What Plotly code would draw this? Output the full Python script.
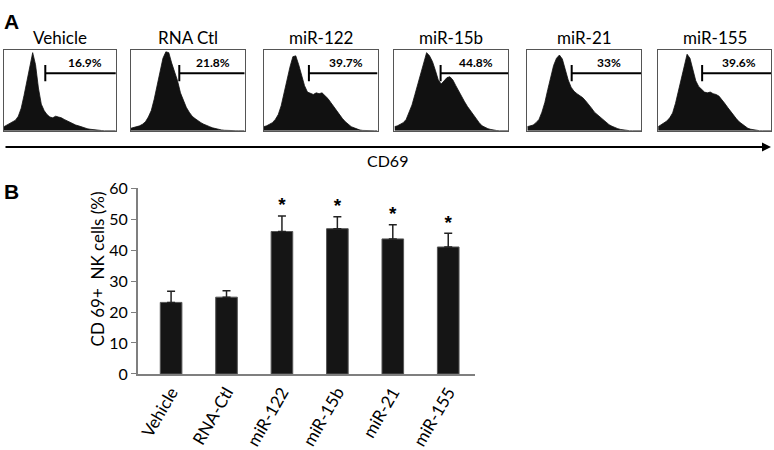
import plotly.graph_objects as go

W, H = 774, 450

# ---------------- Panel A data (flow cytometry histograms, normalised counts per CD69 channel bin)
SAMPLES_A = ["Vehicle", "RNA Ctl", "miR-122", "miR-15b", "miR-21", "miR-155"]
PCT_LABELS = ["16.9%", "21.8%", "39.7%", "44.8%", "33%", "39.6%"]
GATE_START = [14.4, 16.6, 15.5, 15.8, 15.2, 15.2]  # channel bin where CD69+ gate starts
CHANNEL_BINS = list(range(40))

HIST_VEHICLE = [0.05, 0.07, 0.08, 0.10, 0.13, 0.18, 0.28, 0.44, 0.63, 0.83,
                0.97, 0.82, 0.53, 0.33, 0.25, 0.20, 0.17, 0.16, 0.18, 0.17,
                0.16, 0.14, 0.12, 0.10, 0.09, 0.07, 0.06, 0.045, 0.035, 0.025,
                0.018, 0.012, 0.008, 0.004, 0.002, 0, 0, 0, 0, 0]
HIST_RNACTL = [0.03, 0.04, 0.05, 0.06, 0.08, 0.11, 0.17, 0.25, 0.39, 0.55,
               0.73, 0.90, 0.98, 0.97, 0.84, 0.73, 0.62, 0.47, 0.38, 0.29,
               0.23, 0.18, 0.15, 0.12, 0.10, 0.08, 0.06, 0.05, 0.035, 0.025,
               0.015, 0.01, 0.005, 0.002, 0, 0, 0, 0, 0, 0]
HIST_MIR122 = [0.05, 0.06, 0.08, 0.10, 0.14, 0.20, 0.31, 0.47, 0.65, 0.79,
               0.92, 0.93, 0.82, 0.68, 0.56, 0.48, 0.46, 0.45, 0.47, 0.46,
               0.47, 0.44, 0.40, 0.35, 0.30, 0.25, 0.19, 0.15, 0.11, 0.08,
               0.05, 0.035, 0.02, 0.008, 0.003, 0, 0, 0, 0, 0]
HIST_MIR15B = [0.05, 0.06, 0.08, 0.10, 0.14, 0.22, 0.32, 0.45, 0.58, 0.74,
               0.87, 0.97, 0.93, 0.86, 0.75, 0.63, 0.58, 0.62, 0.66, 0.67,
               0.63, 0.56, 0.49, 0.43, 0.36, 0.30, 0.25, 0.19, 0.14, 0.10,
               0.06, 0.04, 0.025, 0.015, 0.006, 0.002, 0, 0, 0, 0]
HIST_MIR21 = [0.05, 0.06, 0.07, 0.10, 0.14, 0.23, 0.35, 0.51, 0.67, 0.81,
              0.90, 0.94, 0.89, 0.75, 0.63, 0.54, 0.49, 0.46, 0.44, 0.41,
              0.37, 0.33, 0.28, 0.23, 0.20, 0.16, 0.13, 0.10, 0.075, 0.055,
              0.037, 0.025, 0.015, 0.008, 0.003, 0, 0, 0, 0, 0]
HIST_MIR155 = [0.05, 0.07, 0.09, 0.12, 0.16, 0.22, 0.34, 0.50, 0.67, 0.83,
               0.95, 0.90, 0.76, 0.62, 0.55, 0.51, 0.48, 0.47, 0.48, 0.46,
               0.45, 0.43, 0.39, 0.34, 0.29, 0.24, 0.19, 0.15, 0.11, 0.08,
               0.055, 0.03, 0.018, 0.01, 0.004, 0, 0, 0, 0, 0]
HISTS = [HIST_VEHICLE, HIST_RNACTL, HIST_MIR122, HIST_MIR15B, HIST_MIR21, HIST_MIR155]

# ---------------- Panel B data
GROUPS_B = ["Vehicle", "RNA-Ctl", "miR-122", "miR-15b", "miR-21", "miR-155"]
CD69_PCT = [23.1, 24.8, 46.0, 46.9, 43.6, 41.0]
CD69_SEM = [3.6, 2.1, 5.0, 3.9, 4.6, 4.4]
SIGNIF = ["", "", "*", "*", "*", "*"]
Y_TICKS = [0, 10, 20, 30, 40, 50, 60]

# ---------------- layout helpers (pixel -> paper)
def px_x(v):
    return v / W

def px_y(v):
    return 1 - v / H

BOX_X = [(3, 115), (130, 244), (263, 377), (394, 508), (527, 641), (658, 771)]
BOX_Y = (42, 126)

FONT = "Lato, 'Open Sans', sans-serif"
INK = "#111111"

fig = go.Figure()
layout = dict(
    width=W, height=H, autosize=False,
    margin=dict(l=0, r=0, t=0, b=0, pad=0),
    paper_bgcolor="white", plot_bgcolor="white",
    showlegend=False,
    font=dict(family=FONT, color="#000000"),
)
shapes = []
annotations = []

for i, (name, hist) in enumerate(zip(SAMPLES_A, HISTS)):
    n = i + 1
    xa = "x" if n == 1 else f"x{n}"
    ya = "y" if n == 1 else f"y{n}"
    fig.add_trace(go.Scatter(
        x=CHANNEL_BINS, y=hist, mode="lines", fill="tozeroy",
        line=dict(color=INK, width=0.8, shape="linear"),
        fillcolor=INK, xaxis=xa, yaxis=ya, hoverinfo="skip"))
    x0, x1 = BOX_X[i]
    axstyle = dict(showgrid=False, zeroline=False, showticklabels=False, ticks="",
                   showline=True, mirror=True, linecolor="#555555", linewidth=1,
                   fixedrange=True)
    layout["xaxis" if n == 1 else f"xaxis{n}"] = dict(
        domain=[px_x(x0), px_x(x1)], range=[0, CHANNEL_BINS[-1]],
        anchor=ya, **axstyle)
    layout["yaxis" if n == 1 else f"yaxis{n}"] = dict(
        domain=[px_y(BOX_Y[1]), px_y(BOX_Y[0])], range=[0, 1.0],
        anchor=xa, **axstyle)
    # gate
    gy = 0.715
    shapes.append(dict(type="line", xref=xa, yref=f"{ya} domain",
                       x0=GATE_START[i], x1=CHANNEL_BINS[-1], y0=gy, y1=gy,
                       line=dict(color="#000000", width=2)))
    shapes.append(dict(type="line", xref=xa, yref=f"{ya} domain",
                       x0=GATE_START[i], x1=GATE_START[i], y0=gy - 0.1, y1=gy + 0.1,
                       line=dict(color="#000000", width=2)))
    annotations.append(dict(text=f"<b>{PCT_LABELS[i]}</b>", xref=f"{xa} domain",
                            yref=f"{ya} domain", x=0.72, y=gy + 0.01,
                            xanchor="center", yanchor="bottom", showarrow=False,
                            font=dict(size=12, color="#000000", family=FONT)))
    annotations.append(dict(text=name, xref="paper", yref="paper",
                            x=px_x((x0 + x1) / 2), y=px_y(29),
                            xanchor="center", yanchor="middle", showarrow=False,
                            font=dict(size=17, color="#000000", family=FONT)))

# CD69 axis arrow
annotations.append(dict(text="", xref="paper", yref="paper",
                        x=px_x(771), y=px_y(143), ax=-767, ay=0,
                        axref="pixel", ayref="pixel",
                        showarrow=True, arrowhead=2, arrowsize=0.9, arrowwidth=2,
                        arrowcolor="#000000"))
annotations.append(dict(text="CD69", xref="paper", yref="paper",
                        x=px_x(387), y=px_y(157), xanchor="center", yanchor="middle",
                        showarrow=False, font=dict(size=16, color="#000000", family=FONT)))

# panel letters
annotations.append(dict(text="<b>A</b>", xref="paper", yref="paper", x=px_x(1), y=px_y(12),
                        xanchor="left", yanchor="middle", showarrow=False,
                        font=dict(size=21, family="Liberation Sans, Arial", color="#000000")))
annotations.append(dict(text="<b>B</b>", xref="paper", yref="paper", x=px_x(1), y=px_y(190),
                        xanchor="left", yanchor="middle", showarrow=False,
                        font=dict(size=21, family="Liberation Sans, Arial", color="#000000")))

# ---------------- Panel B bar chart
fig.add_trace(go.Bar(
    x=GROUPS_B, y=CD69_PCT, width=0.39,
    marker=dict(color="#151515", line=dict(color="#555555", width=1)),
    error_y=dict(type="data", array=CD69_SEM, arrayminus=[0] * len(CD69_SEM),
                 symmetric=False, color="#222222", thickness=1.5, width=4),
    xaxis="x7", yaxis="y7", hoverinfo="skip"))
fig.add_trace(go.Scatter(
    x=GROUPS_B, y=[v + e for v, e in zip(CD69_PCT, CD69_SEM)], mode="text",
    text=[f"<b>{s}</b>" if s else "" for s in SIGNIF], textposition="top center",
    textfont=dict(size=19, color="#000000", family="Liberation Sans, Arial"),
    xaxis="x7", yaxis="y7", hoverinfo="skip"))

layout["xaxis7"] = dict(domain=[px_x(137), px_x(475)], anchor="y7",
                        range=[-0.6, 5.49], showgrid=False, zeroline=False,
                        showline=True, linecolor="#7f7f7f", linewidth=1.5,
                        ticks="", tickangle=-60,
                        tickfont=dict(size=17, color="#000000", family=FONT),
                        fixedrange=True)
layout["yaxis7"] = dict(domain=[px_y(380), px_y(186)], anchor="x7",
                        range=[0, 60], tickvals=Y_TICKS, showgrid=False, zeroline=False,
                        showline=True, linecolor="#7f7f7f", linewidth=1.5,
                        ticks="outside", ticklen=5, tickcolor="#7f7f7f", tickwidth=1.2,
                        tickfont=dict(size=16, color="#000000", family=FONT),
                        fixedrange=True)
annotations.append(dict(text="CD 69+  NK cells (%)", xref="paper", yref="paper",
                        x=px_x(97), y=px_y(270), textangle=-90,
                        xanchor="center", yanchor="middle", showarrow=False,
                        font=dict(size=17, color="#000000", family=FONT)))

layout["shapes"] = shapes
layout["annotations"] = annotations
fig.update_layout(**layout)

fig.write_html("out.html", config={"displayModeBar": False},
               post_script="document.body.style.margin='0px';document.body.style.overflow='hidden';")
